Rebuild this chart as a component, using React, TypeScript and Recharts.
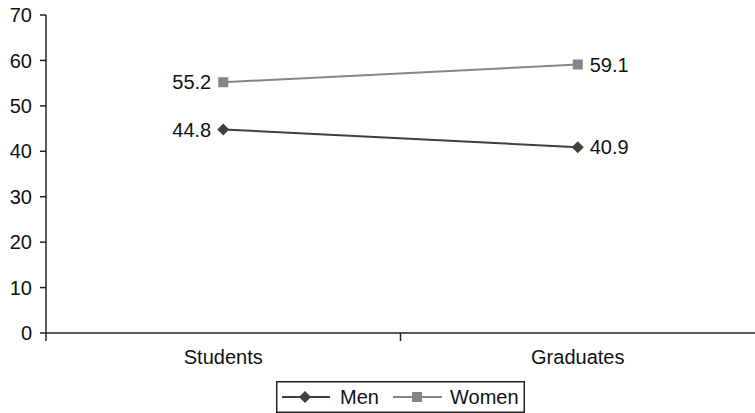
import React from 'react';
import { LineChart, Line, XAxis, YAxis, LabelList } from 'recharts';

// Share of men and women among students and graduates (%)
const categories = ['Students', 'Graduates'];
const menValues = [44.8, 40.9];
const womenValues = [55.2, 59.1];
const yTicks = [0, 10, 20, 30, 40, 50, 60, 70];

const data = categories.map((name, i) => ({
  name,
  men: menValues[i],
  women: womenValues[i],
}));

const W = 755;
const H = 413;
const Y_AXIS_W = 46;
const PLOT_W = W - Y_AXIS_W;
const HALF_BAND = PLOT_W / categories.length / 2;
const FONT = '"Liberation Sans", Arial, sans-serif';

const MEN_COLOR = '#404040';
const WOMEN_COLOR = '#858585';
const AXIS_COLOR = '#222';
const TEXT_COLOR = '#111';

const Diamond = (props: any) => {
  const { cx, cy, fill } = props;
  if (cx == null || cy == null) return null;
  const r = 6;
  return (
    <path
      d={`M${cx},${cy - r} L${cx + r},${cy} L${cx},${cy + r} L${cx - r},${cy} Z`}
      fill={fill}
    />
  );
};

const Square = (props: any) => {
  const { cx, cy, fill } = props;
  if (cx == null || cy == null) return null;
  const s = 5;
  return <rect x={cx - s} y={cy - s} width={s * 2} height={s * 2} fill={fill} />;
};

// First point labelled on the left, last point on the right
const SideLabel = (props: any) => {
  const { x, y, value, index } = props;
  const left = index === 0;
  return (
    <text
      x={left ? x - 12 : x + 12}
      y={y}
      dy="0.36em"
      textAnchor={left ? 'end' : 'start'}
      fontSize={20}
      fontFamily={FONT}
      fill={TEXT_COLOR}
    >
      {value}
    </text>
  );
};

// Category label centred in its band, tick mark at the band's left boundary
const CategoryTick = (props: any) => {
  const { x, y, payload } = props;
  return (
    <g>
      <line
        x1={x - HALF_BAND}
        y1={y - 8}
        x2={x - HALF_BAND}
        y2={y}
        stroke={AXIS_COLOR}
        strokeWidth={1.5}
      />
      <text x={x} y={y + 23} textAnchor="middle" fontSize={20} fontFamily={FONT} fill={TEXT_COLOR}>
        {payload.value}
      </text>
    </g>
  );
};

const ChartLegend = () => (
  <svg
    width={250}
    height={32}
    style={{ position: 'absolute', left: 276, top: 381 }}
  >
    <rect x={0.75} y={0.75} width={247.5} height={30.5} fill="#fff" stroke={AXIS_COLOR} strokeWidth={1.5} />
    <line x1={6} y1={16} x2={54} y2={16} stroke={MEN_COLOR} strokeWidth={2} />
    <path d="M29,10 L35,16 L29,22 L23,16 Z" fill={MEN_COLOR} />
    <text x={64} y={23} fontSize={20} fontFamily={FONT} fill={TEXT_COLOR}>
      Men
    </text>
    <line x1={117} y1={16} x2={166} y2={16} stroke={WOMEN_COLOR} strokeWidth={2} />
    <rect x={136} y={11} width={10} height={10} fill={WOMEN_COLOR} />
    <text x={174} y={23} fontSize={20} fontFamily={FONT} fill={TEXT_COLOR}>
      Women
    </text>
  </svg>
);

export default function App() {
  return (
    <div style={{ position: 'absolute', left: 0, top: 0, width: W, height: H, background: '#fff' }}>
      <LineChart
        width={W}
        height={H}
        data={data}
        margin={{ top: 15, right: 0, bottom: 50, left: 0 }}
      >
        <XAxis
          dataKey="name"
          axisLine={{ stroke: AXIS_COLOR, strokeWidth: 1.5 }}
          tickLine={false}
          tick={<CategoryTick />}
          padding={{ left: HALF_BAND, right: HALF_BAND }}
          height={30}
          interval={0}
        />
        <YAxis
          width={Y_AXIS_W}
          domain={[0, 70]}
          ticks={yTicks}
          interval={0}
          axisLine={{ stroke: AXIS_COLOR, strokeWidth: 1.5 }}
          tickLine={{ stroke: AXIS_COLOR, strokeWidth: 1.5 }}
          tickSize={6}
          tickMargin={8}
          tick={{ fontSize: 20, fontFamily: FONT, fill: TEXT_COLOR }}
        />
        <Line
          dataKey="men"
          stroke={MEN_COLOR}
          strokeWidth={2}
          dot={<Diamond fill={MEN_COLOR} />}
          activeDot={false}
          isAnimationActive={false}
        >
          <LabelList dataKey="men" content={<SideLabel />} />
        </Line>
        <Line
          dataKey="women"
          stroke={WOMEN_COLOR}
          strokeWidth={2}
          dot={<Square fill={WOMEN_COLOR} />}
          activeDot={false}
          isAnimationActive={false}
        >
          <LabelList dataKey="women" content={<SideLabel />} />
        </Line>
      </LineChart>
      <ChartLegend />
    </div>
  );
}
